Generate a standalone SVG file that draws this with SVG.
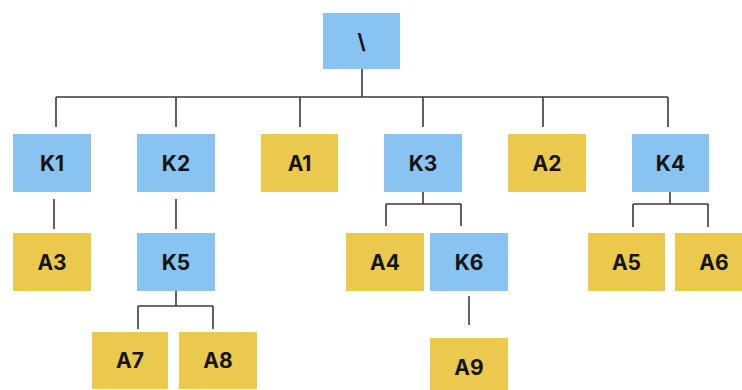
<svg xmlns="http://www.w3.org/2000/svg" width="742" height="390" viewBox="0 0 742 390">
<style>
.k{fill:#88C3F1}
.a{fill:#EBC94C}
text{font-family:Inter,"Liberation Sans",sans-serif;font-weight:700;font-size:21px;fill:#151515;text-anchor:middle;dominant-baseline:central}
.c{fill:none;stroke:#3a3a3a;stroke-width:1.6}
</style>
<rect width="742" height="390" fill="#ffffff"/>
<g id="connectors" class="c">
<path d="M362 69V97M56 97H668M56 97V127M176 97V127M300 97V127M423 97V127M543 97V127M668 97V127"/>
<path d="M54 199V229M176 199V229"/>
<path d="M176 291V306M138 306H213M138 306V329M213 306V329"/>
<path d="M423 192V204M386 204H461M386 204V226M461 204V226"/>
<path d="M670 192V204M633 204H708M633 204V227M708 204V227"/>
<path d="M469 296V325"/>
</g>
<g id="root"><rect class="k" x="323" y="13" width="77" height="56"/><text x="361.5" y="41" fill="#1b2a4a">\</text></g>
<g id="K1"><rect class="k" x="13" y="134" width="78" height="58"/><text x="52" y="163">K1</text></g>
<g id="K2"><rect class="k" x="137" y="134" width="78" height="58"/><text x="176" y="163">K2</text></g>
<g id="A1"><rect class="a" x="261" y="134" width="77" height="58"/><text x="299.5" y="163">A1</text></g>
<g id="K3"><rect class="k" x="384" y="134" width="78" height="58"/><text x="423" y="163">K3</text></g>
<g id="A2"><rect class="a" x="508" y="134" width="78" height="58"/><text x="547" y="163">A2</text></g>
<g id="K4"><rect class="k" x="632" y="134" width="77" height="58"/><text x="670.5" y="163">K4</text></g>
<g id="A3"><rect class="a" x="13" y="233" width="78" height="58"/><text x="52" y="262">A3</text></g>
<g id="K5"><rect class="k" x="137" y="233" width="78" height="58"/><text x="176" y="262">K5</text></g>
<g id="A4"><rect class="a" x="346" y="233" width="78" height="58"/><text x="385" y="262">A4</text></g>
<g id="K6"><rect class="k" x="430" y="233" width="78" height="58"/><text x="469" y="262">K6</text></g>
<g id="A5"><rect class="a" x="588" y="233" width="77" height="58"/><text x="626.5" y="262">A5</text></g>
<g id="A6"><rect class="a" x="675" y="233" width="78" height="58"/><text x="714" y="262">A6</text></g>
<g id="A7"><rect class="a" x="92" y="332" width="76" height="57"/><text x="130" y="360">A7</text></g>
<g id="A8"><rect class="a" x="179" y="332" width="78" height="57"/><text x="218" y="360">A8</text></g>
<g id="A9"><rect class="a" x="430" y="338" width="78" height="58"/><text x="469" y="367">A9</text></g>
</svg>
